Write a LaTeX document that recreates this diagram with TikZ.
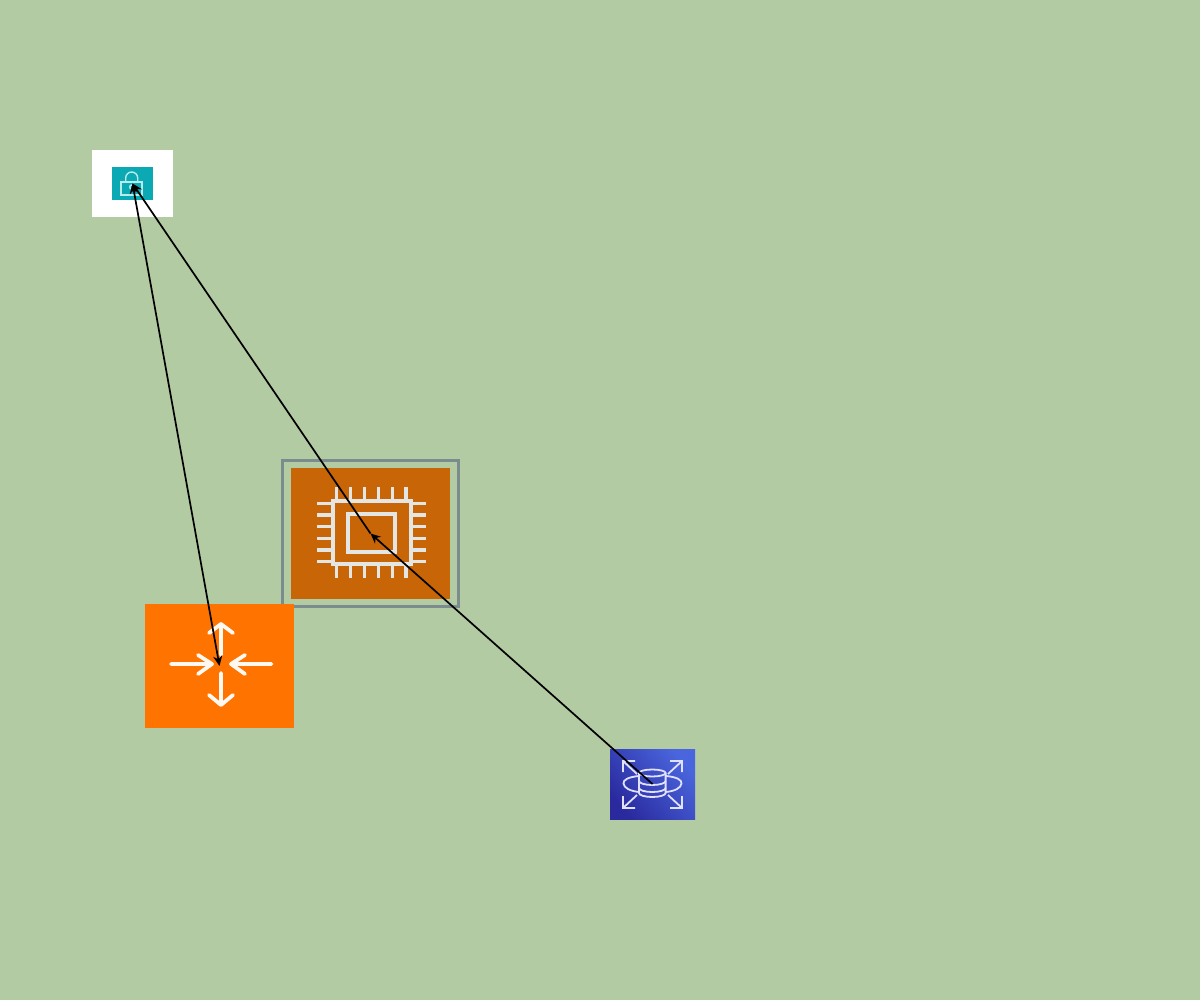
\documentclass[tikz,border=0pt]{standalone}
\usetikzlibrary{arrows.meta}
\definecolor{bgc}{HTML}{B2CBA2}
\definecolor{tealc}{HTML}{0AA9B4}
\definecolor{ec2c}{HTML}{C76507}
\definecolor{routerc}{HTML}{FF7300}
\definecolor{framec}{HTML}{7C8B8E}
\definecolor{chipc}{HTML}{E4E6E3}
\definecolor{rdsa}{HTML}{2A2A9E}
\definecolor{rdsb}{HTML}{4A66DE}
\definecolor{lockc}{HTML}{B8ECEC}
\tikzset{
  iconbox/.style={inner sep=0pt,outer sep=0pt,draw=none,anchor=center},
  link/.style={black,line width=1.7pt,-{Stealth[length=10pt,width=9pt]}},
  biglink/.style={black,line width=1.7pt,{Stealth[length=10pt,width=9pt]}-{Stealth[length=10pt,width=9pt]}},
  chipline/.style={chipc,line width=3.2pt},
  routerline/.style={white!95!orange,line width=3.8pt,line cap=round,line join=round},
  rdsline/.style={white!88!blue,line width=1.8pt},
  lockline/.style={lockc,line width=1.4pt}
}
\begin{document}
\begin{tikzpicture}[x=1pt,y=-1pt]
\useasboundingbox (0,0) rectangle (1200,1000);
\fill[bgc] (0,0) rectangle (1200,1000);

% lock
\node[iconbox,fill=white,minimum width=81pt,minimum height=67pt] (lockbox) at (132.5,183.5) {};
\node[iconbox,fill=tealc,minimum width=41pt,minimum height=33pt] (lock) at (132.5,183.5) {};
\draw[lockline] (121,182) rectangle (142,195);
\draw[lockline] (125.7,182) -- (125.7,178) arc[start angle=180,end angle=0,x radius=6,y radius=-6] -- (137.7,182);
\draw[lockline] (131.7,187) circle[radius=2];

% ec2
\node[iconbox,draw=framec,line width=3.6pt,minimum width=176pt,minimum height=146pt] (ec2frame) at (370.5,533.5) {};
\node[iconbox,fill=ec2c,minimum width=159pt,minimum height=131pt] (ec2) at (370.5,533.5) {};
\draw[chipline] (333,501) rectangle (411,564);
\draw[chipline] (348,514) rectangle (395,552);
\foreach \px in {336.7,350.7,364.3,378.3,392.3,406} {
  \draw[chipline] (\px,487) -- (\px,501);
  \draw[chipline] (\px,564) -- (\px,578);
}
\foreach \py in {503.3,515,526.7,538.3,550,561.7} {
  \draw[chipline] (317,\py) -- (333,\py);
  \draw[chipline] (411,\py) -- (426,\py);
}

% router
\node[iconbox,fill=routerc,minimum width=149pt,minimum height=124pt] (router) at (219.5,666) {};
\draw[routerline] (171,664) -- (212,664) (198,655) -- (212,664) -- (198,674);
\draw[routerline] (271.5,664) -- (231,664) (245,655) -- (231,664) -- (245,674);
\draw[routerline] (221,655) -- (221,624) (209,633) -- (221,624) -- (233,633);
\draw[routerline] (221,673) -- (221,705) (209,695) -- (221,705) -- (233,695);

% rds
\node[iconbox,minimum width=85pt,minimum height=70pt,
      bottom color=rdsa,top color=rdsb,shading angle=-50] (rds) at (652.5,784) {};
\draw[rdsline] (639,773) -- (639,793) arc[start angle=180,end angle=360,x radius=13.3,y radius=-4] -- (665.6,773);
\draw[rdsline] (652.3,773) ellipse[x radius=13.3,y radius=3.5];
\draw[rdsline] (639,781) arc[start angle=180,end angle=360,x radius=13.3,y radius=-4];
\draw[rdsline] (639,788) arc[start angle=180,end angle=360,x radius=13.3,y radius=-4];
\draw[rdsline] (639,776) .. controls (628,777) and (623,780) .. (623.5,783.5) .. controls (624,788) and (630,791) .. (639,792);
\draw[rdsline] (666,776) .. controls (677,777) and (682,780) .. (681.5,783.5) .. controls (681,788) and (675,791) .. (666,792);
\draw[rdsline] (635,761) -- (623,761) -- (623,772) (623,761) -- (637,774);
\draw[rdsline] (670,761) -- (682,761) -- (682,772) (682,761) -- (668,774);
\draw[rdsline] (635,808) -- (623,808) -- (623,796) (623,808) -- (637,795);
\draw[rdsline] (670,808) -- (682,808) -- (682,796) (682,808) -- (668,795);

% connectors
\draw[biglink] (lock.center) -- (router.center);
\draw[link] (ec2.center) -- (lock.center);
\draw[link] (rds.center) -- (ec2.center);
\end{tikzpicture}
\end{document}
